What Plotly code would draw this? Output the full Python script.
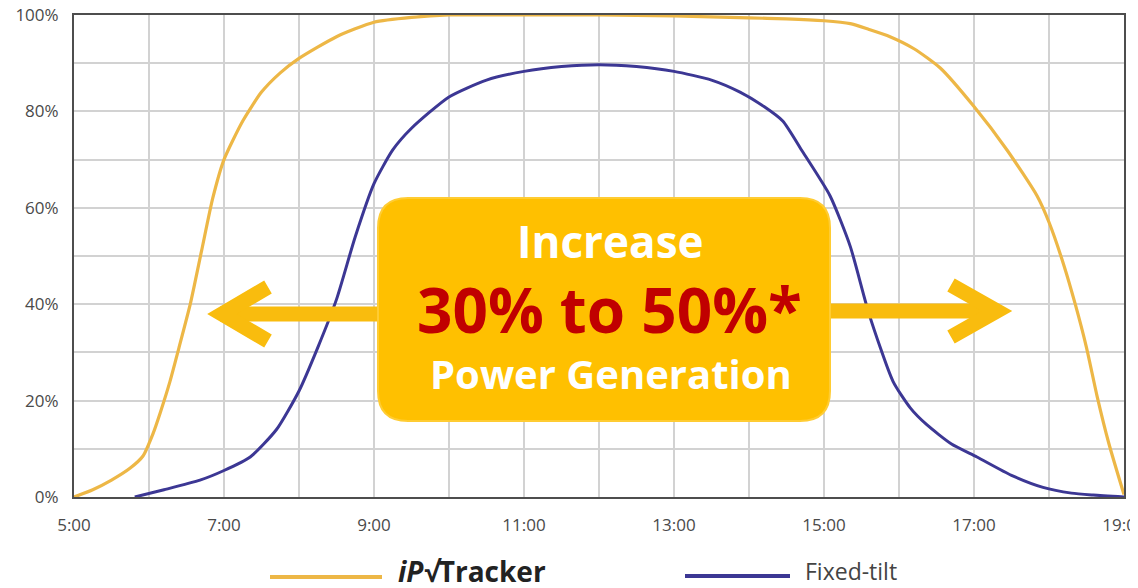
import plotly.graph_objects as go

# ---------------- data ----------------
tracker_hours = [5.0, 5.25, 5.5, 5.75, 5.92, 6.05, 6.15, 6.28, 6.4, 6.55, 6.7, 6.85, 7.0, 7.25, 7.5,
                 7.75, 8.0, 8.5, 9.0, 9.5, 10.0, 11.0, 12.0, 13.0, 14.0, 14.5, 15.0, 15.35, 15.6,
                 15.88, 16.2, 16.55, 17.0, 17.44, 17.84, 18.0, 18.2, 18.35, 18.5, 18.64, 18.8, 19.0]
tracker_values = [0, 1.5, 3.5, 6, 8.5, 13, 17.5, 24, 31, 40, 51, 62, 70, 78, 84,
                  88, 91, 95.5, 98.5, 99.5, 100, 100, 100, 99.8, 99.4, 99.2, 98.8, 98.2, 97,
                  95.5, 93, 89, 81, 72, 62.5, 57, 48, 40, 31, 21, 11, 0.5]

fixed_hours = [5.81, 6.2, 6.68, 7.0, 7.35, 7.7, 8.0, 8.25, 8.5, 8.75, 9.0, 9.25, 9.5, 10.0, 10.5,
               11.0, 11.5, 12.0, 12.5, 13.0, 13.5, 13.88, 14.2, 14.45, 14.7, 15.08, 15.35, 15.6,
               15.92, 16.15, 16.37, 16.7, 17.04, 17.5, 17.92, 18.3, 18.59, 19.0]
fixed_values = [0, 1.5, 3.5, 5.5, 8.3, 14, 22, 31, 41, 54, 65, 72, 76.5, 83, 86.5,
                88.3, 89.3, 89.7, 89.3, 88.3, 86.5, 84, 81, 78, 72, 62.5, 52, 38,
                24, 18.5, 15, 11, 8.3, 4.5, 2, 0.8, 0.4, 0]

x_tick_vals = [5, 7, 9, 11, 13, 15, 17, 19]
x_tick_text = ["5:00", "7:00", "9:00", "11:00", "13:00", "15:00", "17:00", "19:00"]
y_tick_vals = [0, 20, 40, 60, 80, 100]
y_tick_text = ["0%", "20%", "40%", "60%", "80%", "100%"]

series_names = ["iP√Tracker", "Fixed-tilt"]
callout_lines = ["Increase", "30% to 50%*", "Power Generation"]

# ---------------- style ----------------
# the page body has an 8px default margin, so the figure is offset by 8px
OFF = 8
W, H = 1138 - OFF, 588 - OFF
PLOT_L, PLOT_R, PLOT_T, PLOT_B = 74, 1124, 15, 497   # in screenshot pixels
ML, MR, MT, MB = PLOT_L - OFF, 1138 - PLOT_R, PLOT_T - OFF, 588 - PLOT_B
PW, PH = PLOT_R - PLOT_L, PLOT_B - PLOT_T
TRACKER_COLOR = "#EDB746"
FIXED_COLOR = "#3C3794"
BOX_COLOR = "#FFC000"
ARROW_COLOR = "#F9BC0E"
TICK_FONT = dict(family="Open Sans", size=17, color="#4A4A4A")


def px(x):
    return (x - PLOT_L) / PW


def py(y):
    return (PLOT_B - y) / PH


fig = go.Figure()
fig.add_trace(go.Scatter(x=tracker_hours, y=tracker_values, mode="lines", name=series_names[0],
                         line=dict(color=TRACKER_COLOR, width=3.2, shape="spline", smoothing=0.6),
                         showlegend=False))
fig.add_trace(go.Scatter(x=fixed_hours, y=fixed_values, mode="lines", name=series_names[1],
                         line=dict(color=FIXED_COLOR, width=3, shape="spline", smoothing=0.6),
                         showlegend=False))

shapes = []
# arrows (shafts + chevrons)
shapes.append(dict(type="path", xref="paper", yref="paper", layer="above",
                   path=f"M {px(220)},{py(314)} L {px(390)},{py(314)}",
                   line=dict(color=ARROW_COLOR, width=15)))
shapes.append(dict(type="path", xref="paper", yref="paper", layer="above",
                   path=f"M {px(268)},{py(287)} L {px(222)},{py(314)} L {px(268)},{py(341)}",
                   line=dict(color=ARROW_COLOR, width=15)))
shapes.append(dict(type="path", xref="paper", yref="paper", layer="above",
                   path=f"M {px(820)},{py(311)} L {px(995)},{py(311)}",
                   line=dict(color=ARROW_COLOR, width=15)))
shapes.append(dict(type="path", xref="paper", yref="paper", layer="above",
                   path=f"M {px(951)},{py(285)} L {px(997)},{py(311)} L {px(951)},{py(337)}",
                   line=dict(color=ARROW_COLOR, width=15)))

# rounded call-out box
x0, x1, y0, y1, r = 378, 830, 198, 421, 30
box_path = (f"M {px(x0 + r)},{py(y0)} L {px(x1 - r)},{py(y0)} Q {px(x1)},{py(y0)} {px(x1)},{py(y0 + r)} "
            f"L {px(x1)},{py(y1 - r)} Q {px(x1)},{py(y1)} {px(x1 - r)},{py(y1)} "
            f"L {px(x0 + r)},{py(y1)} Q {px(x0)},{py(y1)} {px(x0)},{py(y1 - r)} "
            f"L {px(x0)},{py(y0 + r)} Q {px(x0)},{py(y0)} {px(x0 + r)},{py(y0)} Z")
shapes.append(dict(type="path", xref="paper", yref="paper", layer="above", path=box_path,
                   fillcolor=BOX_COLOR, line=dict(color="#FFCC33", width=2)))

# legend keys
shapes.append(dict(type="line", xref="paper", yref="paper", x0=px(270), x1=px(382), y0=py(577), y1=py(577),
                   line=dict(color=TRACKER_COLOR, width=4)))
shapes.append(dict(type="line", xref="paper", yref="paper", x0=px(685), x1=px(790), y0=py(576), y1=py(576),
                   line=dict(color=FIXED_COLOR, width=4)))

annotations = [
    dict(text=f"<b>{callout_lines[0]}</b>", x=px(610), y=py(241), xref="paper", yref="paper",
         xanchor="center", yanchor="middle",
         showarrow=False, font=dict(family="Open Sans", size=44, color="white")),
    dict(text=f"<b>{callout_lines[1]}</b>", x=px(609), y=py(309), xref="paper", yref="paper",
         xanchor="center", yanchor="middle",
         showarrow=False, font=dict(family="Open Sans", size=62, color="#C00000")),
    dict(text=f"<b>{callout_lines[2]}</b>", x=px(611), y=py(373), xref="paper", yref="paper",
         xanchor="center", yanchor="middle",
         showarrow=False, font=dict(family="Open Sans", size=40, color="white")),
    dict(text="<b><i>iP√</i>Tracker</b>", x=px(396), y=py(571), xref="paper", yref="paper",
         xanchor="left", yanchor="middle",
         showarrow=False, font=dict(family="Open Sans", size=28, color="#222222")),
    dict(text=series_names[1], x=px(803), y=py(571), xref="paper", yref="paper",
         xanchor="left", yanchor="middle",
         showarrow=False, font=dict(family="Open Sans", size=23, color="#444444")),
]

fig.update_layout(
    width=W, height=H,
    margin=dict(l=ML, r=MR, t=MT, b=MB, pad=0, autoexpand=False),
    paper_bgcolor="white", plot_bgcolor="white",
    shapes=shapes, annotations=annotations,
    showlegend=False,
)
fig.update_xaxes(range=[5, 19], tickvals=x_tick_vals, ticktext=x_tick_text, automargin=False,
                 showgrid=True, gridcolor="#D2D2D2", gridwidth=1.5,
                 minor=dict(dtick=1, showgrid=True, gridcolor="#D2D2D2", gridwidth=1.5),
                 showline=True, linecolor="#4D4D4D", linewidth=2, mirror=True,
                 ticks="", ticklabelstandoff=12, zeroline=False, tickfont=TICK_FONT,
                 ticklabeloverflow="allow")
fig.update_yaxes(range=[0, 100], tickvals=y_tick_vals, ticktext=y_tick_text, automargin=False,
                 showgrid=True, gridcolor="#D2D2D2", gridwidth=1.5,
                 minor=dict(dtick=10, showgrid=True, gridcolor="#D2D2D2", gridwidth=1.5),
                 showline=True, linecolor="#4D4D4D", linewidth=2, mirror=True,
                 ticks="", ticklabelstandoff=10, zeroline=False, tickfont=TICK_FONT,
                 ticklabeloverflow="allow")

fig.write_html("out.html")
